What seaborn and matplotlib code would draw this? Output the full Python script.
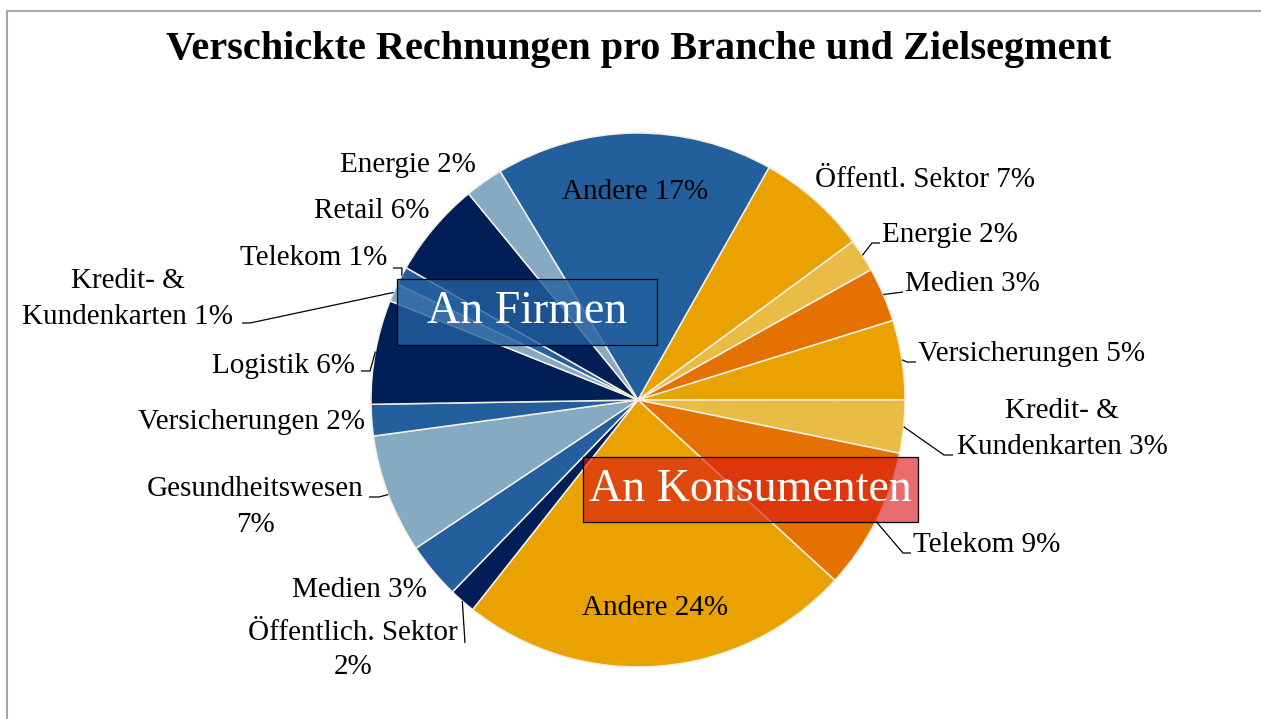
import numpy as np
import matplotlib
matplotlib.use("Agg")
import matplotlib.pyplot as plt
from matplotlib.patches import Rectangle
from matplotlib.lines import Line2D
import seaborn as sns

# data, clockwise starting with "Andere" (Firmen) at the top
branchen = ["Andere", "Öffentl. Sektor", "Energie", "Medien", "Versicherungen",
            "Kredit- &\nKundenkarten", "Telekom", "Andere", "Öffentlich. Sektor",
            "Medien", "Gesundheitswesen", "Versicherungen", "Logistik",
            "Kredit- &\nKundenkarten", "Telekom", "Retail", "Energie"]
segmente = ["Firmen", "Konsumenten", "Konsumenten", "Konsumenten", "Konsumenten",
            "Konsumenten", "Konsumenten", "Konsumenten", "Firmen", "Firmen", "Firmen",
            "Firmen", "Firmen", "Firmen", "Firmen", "Firmen", "Firmen"]
anteile = [16.8, 6.7, 2.0, 3.3, 4.8, 3.2, 8.6, 23.8, 1.6, 3.4, 7.2, 1.9, 6.3,
           1.1, 1.1, 5.8, 2.3]
segment_titel = ["An Firmen", "An Konsumenten"]

BLUE, LBLUE, NAVY = "#235F9C", "#87AAC3", "#011E56"
ORANGE, LORANGE, DORANGE = "#E9A201", "#E9BD45", "#E57200"
farben = [BLUE, ORANGE, LORANGE, DORANGE, ORANGE, LORANGE, DORANGE, ORANGE,
          NAVY, BLUE, LBLUE, BLUE, NAVY, LBLUE, BLUE, NAVY, LBLUE]

W, H = 1261, 719
CX, CY, R = 638, 400, 267  # pie centre / radius in image pixels


def iy(y):
    return H - y


# label layout in image pixels: x, y, ha, separator, leader points (after edge point)
layout = [
    None,
    (815, 180, "left", " ", None),
    (882, 235, "left", " ", [(872, 243), (880, 243)]),
    (905, 284, "left", " ", [(903, 292)]),
    (918, 354, "left", " ", [(907, 362), (916, 362)]),
    (1062, 429, "center", " ", [(944, 455), (953, 455)]),
    (913, 545, "left", " ", [(903, 553), (911, 553)]),
    None,
    (353, 650, "center", "\n", [(465, 643)]),
    (359, 590, "center", " ", None),
    (255, 507, "center", "\n", [(379, 497), (369, 497)]),
    (365, 422, "right", " ", None),
    (355, 366, "right", " ", [(370, 371), (361, 371)]),
    (128, 299, "center", " ", [(250, 323), (242, 323)]),
    (387, 258, "right", " ", [(402, 268), (393, 268)]),
    (430, 211, "right", " ", None),
    (476, 165, "right", " ", None),
]

sns.set_style("white")
plt.rcParams["font.family"] = ["Liberation Serif", "DejaVu Serif"]

fig = plt.figure(figsize=(W / 100, H / 100), dpi=100)
ax = fig.add_axes([0, 0, 1, 1])

wedges, _ = ax.pie(anteile, colors=farben, startangle=121.1, counterclock=False,
                   radius=R, center=(CX, iy(CY)),
                   wedgeprops=dict(edgecolor="#F3EFE4", linewidth=1.1))
ax.set_xlim(0, W)
ax.set_ylim(0, H)
ax.set_aspect("equal")
ax.axis("off")

FS = 21
for i, w in enumerate(wedges):
    mid = np.deg2rad((w.theta1 + w.theta2) / 2)
    sep = " " if layout[i] is None else layout[i][3]
    text = f"{branchen[i]}{sep}{anteile[i]:.0f}%"
    if layout[i] is None:
        ax.text(CX + 0.78 * R * np.cos(mid), iy(CY) + 0.78 * R * np.sin(mid), text,
                ha="center", va="center", fontsize=FS, color="black")
        continue
    x, y, ha, sep, leader = layout[i]
    ax.text(x, iy(y), text, ha=ha, va="center", fontsize=FS, color="black",
            multialignment="center", linespacing=1.45)
    if leader:
        xs = [CX + R * np.cos(mid)] + [p[0] for p in leader]
        ys = [iy(CY) + R * np.sin(mid)] + [iy(p[1]) for p in leader]
        ax.plot(xs, ys, color="black", lw=0.9, solid_capstyle="butt")

# segment boxes
boxes = [((397, 279, 657, 345), (36, 96, 160), 0.8),
         ((583, 457, 918, 522), (218, 20, 20), 0.62)]
for titel, (rect, rgb, alpha) in zip(segment_titel, boxes):
    x0, y0, x1, y1 = rect
    fc = tuple(c / 255 for c in rgb) + (alpha,)
    ax.add_patch(Rectangle((x0, iy(y1)), x1 - x0, y1 - y0, facecolor=fc,
                           edgecolor="black", lw=0.9, zorder=5))
    ax.text((x0 + x1) / 2, iy((y0 + y1) / 2), titel, ha="center", va="center",
            fontsize=33, color="white", zorder=6)

ax.text(639, iy(50), "Verschickte Rechnungen pro Branche und Zielsegment",
        ha="center", va="center", fontsize=29, fontweight="bold", color="black")

# chart area frame
fig.add_artist(Line2D([6.5 / W, 6.5 / W], [0, iy(10.5) / H], color="#A6A6A6", lw=1.5))
fig.add_artist(Line2D([6.5 / W, 1], [iy(10.5) / H, iy(10.5) / H], color="#A6A6A6", lw=1.5))

fig.savefig("out.png", dpi=100)
